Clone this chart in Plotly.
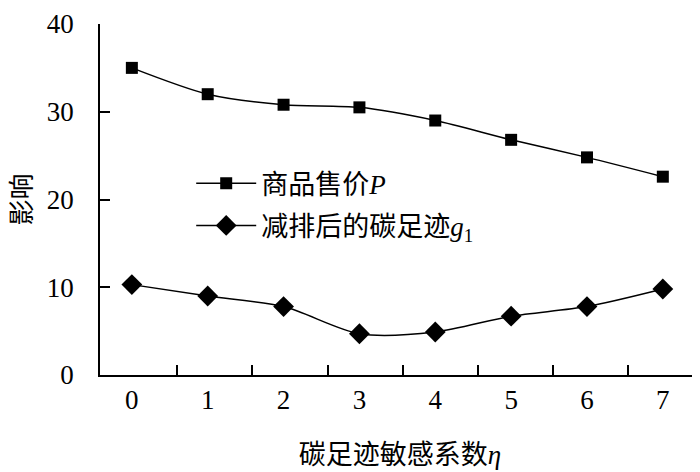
import plotly.graph_objects as go

eta = [0, 1, 2, 3, 4, 5, 6, 7]
price_P = [35.0, 32.0, 30.8, 30.5, 29.0, 26.8, 24.8, 22.6]
footprint_g1 = [10.3, 9.0, 7.8, 4.7, 4.9, 6.7, 7.8, 9.8]
x_tick_labels = ["0", "1", "2", "3", "4", "5", "6", "7"]
y_ticks = [0, 10, 20, 30, 40]

FONT = "Liberation Serif, Times New Roman, Noto Sans CJK SC, serif"

fig = go.Figure()
fig.add_trace(go.Scatter(
    x=eta, y=price_P, mode="lines+markers",
    name="商品售价<i>P</i>", legendgroup="a",
    line=dict(color="black", width=1.5, shape="spline", smoothing=0.8),
    marker=dict(symbol="square", size=12, color="black"),
))
fig.add_trace(go.Scatter(
    x=eta, y=footprint_g1, mode="lines+markers",
    name="减排后的碳足迹<i>g</i><sub>1</sub>", legendgroup="b",
    line=dict(color="black", width=1.5, shape="spline", smoothing=0.8),
    marker=dict(symbol="diamond", size=16, color="black"),
))

fig.update_layout(
    width=692, height=464,
    margin=dict(l=92, r=0, t=16, b=97, autoexpand=False),
    paper_bgcolor="white", plot_bgcolor="white",
    font=dict(family=FONT, size=27, color="black"),
    showlegend=True,
    legend=dict(x=0.152, y=0.485, xanchor="left", yanchor="middle",
                bgcolor="rgba(0,0,0,0)", font=dict(size=27, family=FONT),
                itemwidth=60, tracegroupgap=4),
)
fig.update_xaxes(
    range=[-0.42, 7.49], tickmode="array", tickvals=eta, ticktext=x_tick_labels,
    ticks="", showgrid=False, zeroline=False, automargin=False,
    showline=True, linecolor="black", linewidth=1.5,
    tickfont=dict(size=27, family=FONT), ticklabeloverflow="allow",
    ticklabelstandoff=0,
    minor=dict(tickmode="array", tickvals=[0.6, 1.59, 2.58, 3.57, 4.56, 5.55, 6.54, 7.49],
               ticks="inside", ticklen=10, tickcolor="black", tickwidth=1.5, showgrid=False),
    title=dict(text="碳足迹敏感系数<i>η</i>", font=dict(size=27, family=FONT), standoff=31),
)
fig.update_yaxes(
    range=[0, 40], tickmode="array", tickvals=y_ticks,
    ticks="inside", ticklen=10, tickwidth=1.5, tickcolor="black",
    showgrid=False, zeroline=False, automargin=False,
    showline=True, linecolor="black", linewidth=1.5,
    tickfont=dict(size=27, family=FONT), ticklabeloverflow="allow",
    ticklabelstandoff=19,
    title=dict(text="影响", font=dict(size=26, family=FONT), standoff=26),
)

fig.write_html("out.html")
